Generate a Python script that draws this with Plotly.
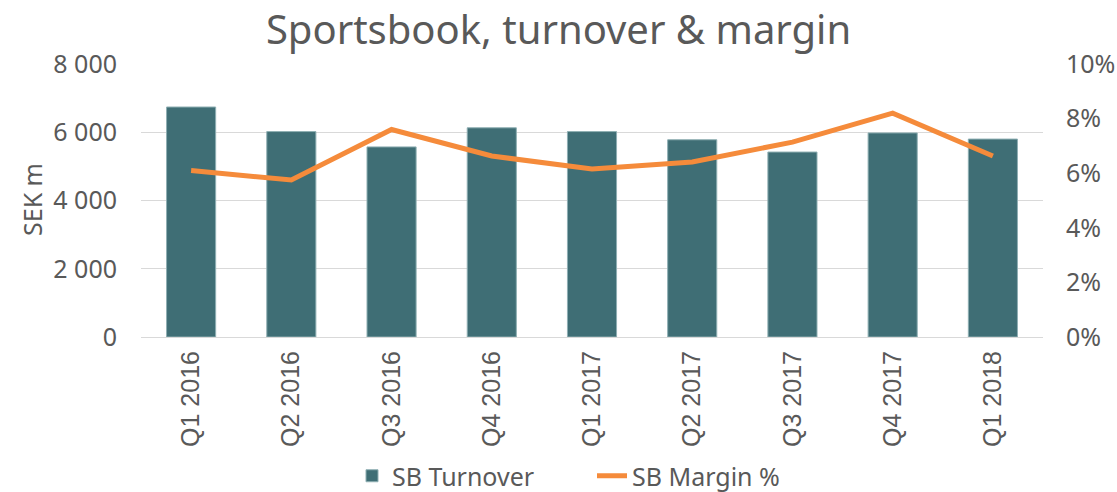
import plotly.graph_objects as go

categories = ["Q1 2016", "Q2 2016", "Q3 2016", "Q4 2016", "Q1 2017",
              "Q2 2017", "Q3 2017", "Q4 2017", "Q1 2018"]
turnover = [6740, 6020, 5570, 6130, 6020, 5780, 5420, 5980, 5800]
margin_pct = [0.061, 0.0575, 0.076, 0.0663, 0.0615, 0.0641, 0.0714, 0.082, 0.0663]

TEXT = "#595959"
L, R, T, B = 141, 74, 64, 155
W, H = 1117, 492
PW, PH = W - L - R, H - T - B

fig = go.Figure()
fig.add_trace(go.Bar(
    x=categories, y=turnover, name="SB Turnover",
    marker=dict(color="#3F6E75", line=dict(color="#8FAFB3", width=1)),
    yaxis="y",
))
fig.add_trace(go.Scatter(
    x=categories, y=margin_pct, name="SB Margin %", mode="lines",
    line=dict(color="#F58B3B", width=5), yaxis="y2",
))

fig.update_layout(
    width=W, height=H,
    margin=dict(l=L, r=R, t=T, b=B, autoexpand=False),
    paper_bgcolor="white", plot_bgcolor="white",
    separators=". ",
    bargap=0.51,
    title=dict(text="Sportsbook, turnover & margin", x=0.5, xanchor="center",
               y=1 - 30 / H, yanchor="middle", automargin=False,
               font=dict(family="Noto Sans", size=40, color=TEXT)),
    font=dict(family="Noto Sans", color=TEXT),
    xaxis=dict(tickangle=-90, tickfont=dict(family="Liberation Sans", size=25, color=TEXT),
               showgrid=False, showline=False, ticks="", automargin=False,
               ticklabelstandoff=8),
    yaxis=dict(range=[0, 8000], dtick=2000, tickformat=",d",
               tickfont=dict(size=25, color=TEXT), automargin=False,
               gridcolor="#D9D9D9", gridwidth=1, zeroline=True, zerolinecolor="#D9D9D9",
               zerolinewidth=1, ticks="", ticklabelstandoff=23),
    yaxis2=dict(range=[0, 0.1], dtick=0.02, tickformat=".0%", overlaying="y", side="right",
                showgrid=False, zeroline=False, automargin=False, ticklabelstandoff=22,
                tickfont=dict(size=25, color=TEXT)),
    legend=dict(orientation="h", x=0.5, xanchor="center", y=(T + PH - 476) / PH,
                yanchor="middle", font=dict(size=25, color=TEXT), traceorder="normal",
                entrywidth=195, entrywidthmode="pixels", borderwidth=0,
                bgcolor="rgba(0,0,0,0)", tracegroupgap=0),
    annotations=[dict(text="SEK m", textangle=-90, xref="paper", yref="paper",
                      x=(32 - L) / PW, y=(T + PH - 200) / PH, xanchor="center",
                      yanchor="middle", showarrow=False,
                      font=dict(size=25, color=TEXT))],
)

fig.write_html("out.html", config={"displayModeBar": False},
               post_script="document.body.style.margin='0';document.body.style.overflow='hidden';")
